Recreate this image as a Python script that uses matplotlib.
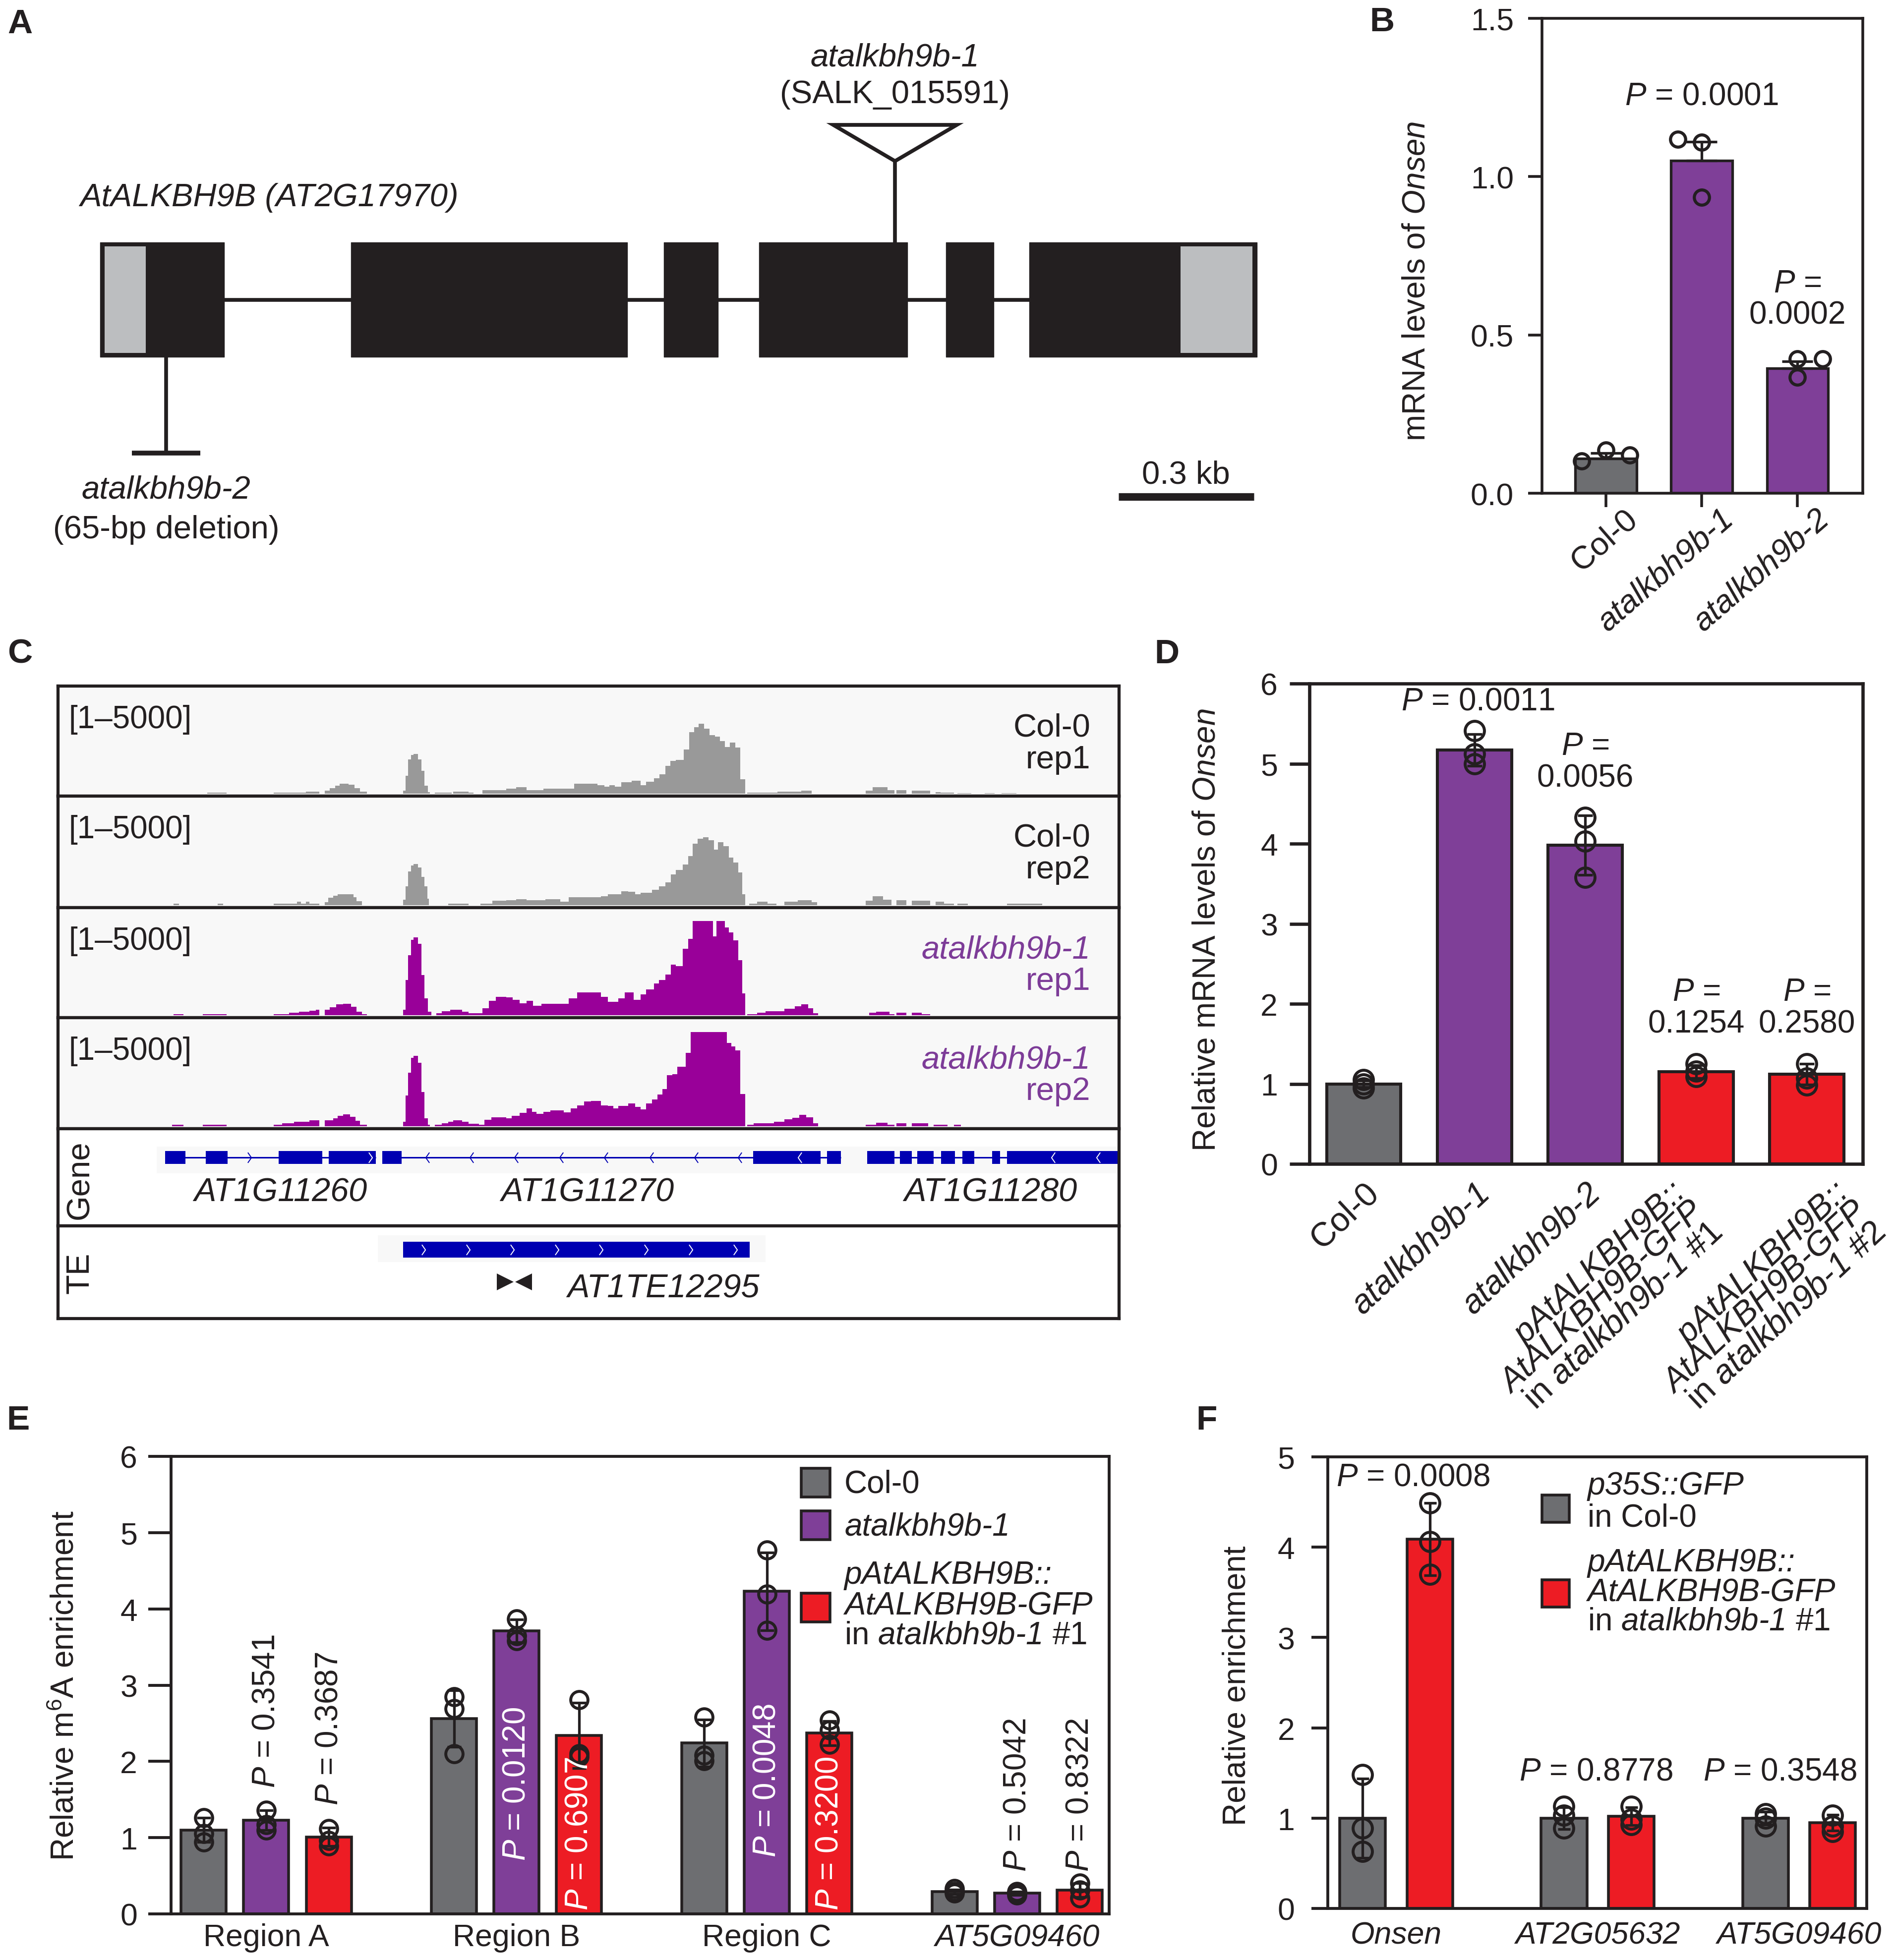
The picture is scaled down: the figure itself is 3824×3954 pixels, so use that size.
import numpy as np
import matplotlib
matplotlib.use('Agg')
import matplotlib.pyplot as plt
from matplotlib.patches import Rectangle, Polygon
from matplotlib.path import Path
from matplotlib.transforms import ScaledTranslation

plt.rcParams.update({
    'font.family': ['Liberation Sans', 'DejaVu Sans'],
    'mathtext.fontset': 'custom',
    'mathtext.rm': 'Liberation Sans',
    'mathtext.it': 'Liberation Sans:italic',
    'mathtext.bf': 'Liberation Sans:bold',
    'mathtext.sf': 'Liberation Sans',
    'axes.unicode_minus': False,
})

# ======================= DATA =======================
# Panel A: AtALKBH9B gene model (bp)
A_exon_starts = [0, 557, 1251, 1462, 1877, 2062]
A_exon_ends = [275, 1170, 1371, 1791, 1983, 2567]
A_utr_starts = [0, 2397]
A_utr_ends = [102, 2567]
A_tdna_pos = 1764
A_deletion_pos = 147
A_scale_bp = 300

# Panel B
B_labels = ['Col-0', 'atalkbh9b-1', 'atalkbh9b-2']
B_mean = [0.11, 1.05, 0.395]
B_err = [0.017, 0.06, 0.022]
B_points = [[0.101, 0.136, 0.120], [1.117, 1.108, 0.935], [0.424, 0.424, 0.366]]
B_jitter = [[-0.25, 0.0, 0.25], [-0.25, 0.0, 0.0], [0.0, 0.26, 0.0]]
B_pvals = ['', '0.0001', '0.0002']

# Panel C: coverage tracks (genome position units, reads; range [1-5000])
C_col0_rep1_edges = [220, 248, 318, 365, 385, 393, 400, 408, 415, 428, 437, 445, 455, 508, 512, 516, 520, 524, 530, 535,
                     540, 545, 548, 555, 580, 582, 605, 612, 625, 660, 675, 690, 715, 760, 795, 805, 812, 820, 830, 845,
                     858, 866, 878, 886, 895, 902, 910, 922, 930, 937, 944, 952, 960, 968, 975, 982, 990, 998, 1005, 1012,
                     1015, 1060, 1072, 1095, 1110, 1190, 1200, 1222, 1232, 1235, 1250, 1258, 1285, 1293, 1300, 1320, 1325, 1345, 1365, 1380,
                     1390, 1412]
C_col0_rep1_cov = [44, 0, 44, 105, 0, 158, 290, 420, 526, 465, 290, 96, 0, 158, 947, 1824, 2043, 2114, 1824, 1210,
                   420, 70, 0, 44, 0, 114, 44, 0, 175, 263, 333, 175, 272, 526, 447, 377, 447, 377, 596, 684,
                   447, 623, 816, 1035, 1473, 1736, 1780, 2350, 3271, 3534, 3710, 3447, 3096, 3034, 2789, 2482, 2701, 2438, 772, 0,
                   44, 96, 114, 167, 0, 158, 333, 175, 0, 175, 0, 158, 0, 88, 44, 0, 26, 0, 26, 0,
                   26]
C_col0_rep2_edges = [170, 178, 235, 243, 318, 352, 358, 365, 370, 385, 393, 398, 405, 412, 425, 435, 440, 448, 508, 512,
                     516, 520, 524, 530, 535, 540, 544, 546, 575, 605, 622, 640, 660, 675, 690, 718, 740, 752, 765, 800,
                     810, 830, 840, 850, 858, 875, 885, 895, 903, 910, 920, 928, 935, 942, 950, 958, 966, 972, 980, 988,
                     995, 1002, 1008, 1012, 1018, 1030, 1045, 1058, 1070, 1090, 1110, 1118, 1190, 1200, 1215, 1228, 1235, 1250, 1258, 1285,
                     1293, 1305, 1320, 1325, 1340, 1398, 1450]
C_col0_rep2_cov = [79, 0, 79, 0, 79, 175, 79, 175, 79, 0, 150, 390, 500, 588, 570, 420, 200, 0, 300, 1000,
                   1800, 2100, 2184, 2000, 1500, 1000, 350, 0, 79, 0, 79, 237, 254, 324, 254, 324, 184, 412, 412, 482,
                   588, 737, 720, 588, 649, 807, 1009, 1201, 1640, 1859, 2166, 2605, 3262, 3525, 3613, 3437, 2956, 3350, 3131, 2517,
                   2254, 1728, 588, 0, 79, 175, 79, 0, 193, 254, 150, 0, 237, 482, 281, 0, 254, 0, 237, 0,
                   184, 79, 0, 79, 0, 79]
C_mut_rep1_edges = [170, 185, 213, 248, 318, 340, 355, 370, 380, 385, 393, 400, 410, 420, 432, 440, 448, 455, 508, 512,
                    516, 520, 524, 530, 535, 540, 545, 550, 557, 565, 578, 595, 605, 625, 635, 645, 660, 670, 680, 690,
                    700, 712, 752, 765, 800, 810, 825, 835, 848, 858, 866, 878, 885, 895, 903, 910, 920, 928, 935, 965,
                    970, 982, 988, 995, 1002, 1008, 1012, 1015, 1030, 1042, 1070, 1085, 1095, 1105, 1112, 1120, 1195, 1205, 1225, 1232,
                    1235, 1250, 1258, 1272, 1285]
C_mut_rep1_cov = [44, 0, 44, 0, 44, 123, 175, 237, 298, 0, 298, 412, 588, 614, 456, 193, 44, 0, 281, 1859,
                  3175, 4008, 4139, 3789, 2122, 895, 193, 0, 105, 210, 281, 193, 105, 368, 763, 965, 940, 807, 631, 763,
                  500, 605, 895, 1201, 982, 719, 895, 1201, 807, 1114, 1377, 1684, 1859, 2166, 2692, 2605, 3526, 4052, 5000, 4184,
                  5000, 4667, 4403, 3964, 2912, 1158, 0, 44, 123, 210, 351, 473, 588, 368, 105, 0, 123, 193, 61, 0,
                  123, 0, 123, 61]
C_mut_rep2_edges = [168, 185, 213, 248, 318, 330, 348, 370, 385, 393, 405, 412, 420, 430, 438, 445, 455, 508, 512, 516,
                    520, 524, 530, 535, 540, 545, 548, 555, 565, 575, 582, 595, 605, 620, 628, 638, 660, 668, 680, 690,
                    698, 705, 715, 725, 745, 755, 765, 775, 785, 800, 810, 818, 825, 840, 850, 858, 866, 875, 883, 890,
                    897, 905, 912, 925, 932, 985, 992, 998, 1005, 1012, 1015, 1025, 1055, 1070, 1082, 1092, 1102, 1112, 1120, 1190,
                    1205, 1222, 1232, 1235, 1250, 1258, 1282, 1290, 1310, 1320, 1330]
C_mut_rep2_cov = [70, 0, 70, 0, 70, 157, 226, 313, 0, 313, 418, 548, 635, 505, 287, 70, 0, 244, 1636, 2854,
                  3637, 3741, 3376, 1810, 418, 70, 0, 87, 157, 226, 313, 226, 139, 87, 331, 479, 418, 548, 722, 940,
                  766, 661, 766, 835, 740, 940, 1114, 1305, 1331, 1114, 1070, 940, 1070, 1201, 1027, 896, 1201, 1418, 1679, 1984,
                  2723, 2767, 3158, 3898, 5000, 4420, 4246, 4028, 1723, 0, 70, 157, 244, 374, 435, 609, 461, 157, 0, 87,
                  174, 87, 0, 157, 0, 157, 0, 70, 0, 70]
C_track_names = ['Col-0', 'Col-0', 'atalkbh9b-1', 'atalkbh9b-1']
C_track_reps = ['rep1', 'rep2', 'rep1', 'rep2']
C_range_label = '[1\u20135000]'
C_data_max = 5000

# Panel C: annotation tracks
C_gene_names = ['AT1G11260', 'AT1G11270', 'AT1G11280']
C_gene_exons = [[(158, 188), (218, 250), (325, 389), (399, 468)],
                [(478, 506), (1024, 1123), (1133, 1153)],
                [(1192, 1232), (1240, 1258), (1266, 1290), (1301, 1321), (1332, 1350), (1376, 1388), (1398, 1563)]]
C_gene_label_pos = [328, 780, 1374]
C_intron_arrows_fwd = [282]
C_intron_arrows_rev = [544, 609, 675, 741, 807, 874, 940, 1004]
C_exon_arrows_fwd = [460]
C_exon_arrows_rev = [1093, 1466, 1532]
C_te_name = 'AT1TE12295'
C_te_span = (508, 1019)
C_te_arrows = [538, 604, 669, 735, 800, 866, 932, 998]
C_te_label_pos = 892
C_primer_pos = [659, 686]

# Panel D
D_labels = ['Col-0', 'atalkbh9b-1', 'atalkbh9b-2',
            'pAtALKBH9B::\nAtALKBH9B-GFP\n$\\mathrm{in}$ atalkbh9b-1 $\\mathrm{\\#1}$',
            'pAtALKBH9B::\nAtALKBH9B-GFP\n$\\mathrm{in}$ atalkbh9b-1 $\\mathrm{\\#2}$']
D_mean = [1.00, 5.17, 3.98, 1.15, 1.12]
D_err = [0.04, 0.20, 0.37, 0.08, 0.13]
D_points = [[0.95, 1.00, 1.05], [5.41, 5.12, 5.00], [4.33, 4.03, 3.58], [1.25, 1.16, 1.09], [1.25, 1.07, 0.985]]
D_pvals = ['', '0.0011', '0.0056', '0.1254', '0.2580']

# Panel E
E_groups = ['Region A', 'Region B', 'Region C', 'AT5G09460']
E_col0 = [1.10, 2.56, 2.24, 0.29]
E_col0_err = [0.16, 0.37, 0.31, 0.03]
E_col0_pts = [[1.26, 1.05, 0.94], [2.85, 2.69, 2.10], [2.58, 2.08, 2.01], [0.33, 0.29, 0.27]]
E_mut = [1.23, 3.71, 4.23, 0.27]
E_mut_err = [0.13, 0.15, 0.51, 0.02]
E_mut_pts = [[1.36, 1.17, 1.10], [3.87, 3.65, 3.58], [4.77, 4.19, 3.72], [0.29, 0.27, 0.25]]
E_comp = [1.01, 2.34, 2.37, 0.31]
E_comp_err = [0.12, 0.43, 0.16, 0.09]
E_comp_pts = [[1.12, 0.96, 0.89], [2.81, 2.10, 2.06], [2.54, 2.41, 2.22], [0.40, 0.31, 0.21]]
E_p_mut = ['0.3541', '0.0120', '0.0048', '0.5042']
E_p_comp = ['0.3687', '0.6907', '0.3200', '0.8322']
E_legend = ['Col-0', 'atalkbh9b-1', ['pAtALKBH9B::', 'AtALKBH9B-GFP', '$\\mathrm{in}$ atalkbh9b-1 $\\mathrm{\\#1}$']]

# Panel F
F_groups = ['Onsen', 'AT2G05632', 'AT5G09460']
F_gfp = [1.00, 1.00, 1.00]
F_gfp_err = [0.44, 0.12, 0.07]
F_gfp_pts = [[1.48, 0.89, 0.63], [1.13, 1.03, 0.89], [1.05, 1.00, 0.91]]
F_comp = [4.09, 1.02, 0.95]
F_comp_err = [0.40, 0.10, 0.09]
F_comp_pts = [[4.49, 4.06, 3.70], [1.13, 0.99, 0.93], [1.03, 0.91, 0.85]]
F_pvals = ['0.0008', '0.8778', '0.3548']
F_legend = [['p35S::GFP', 'in Col-0'], ['pAtALKBH9B::', 'AtALKBH9B-GFP', '$\\mathrm{in}$ atalkbh9b-1 $\\mathrm{\\#1}$']]

# ======================= STYLE =======================
BLK = '#231f20'
GREY = '#6d6e71'
PURPLE = '#7f3f98'
RED = '#ed1c24'
UTR_GREY = '#bcbec0'
COV_GREY = '#999999'
COV_PURPLE = '#990099'
LAB_PURPLE = '#7d3c98'
IGV_BLUE = '#0000b2'
TRACK_BG = '#f8f8f8'
FS = 46
FS_T = 45
FS_A = 47

W, H = 3824, 3955
fig = plt.figure(figsize=(W / 100, H / 100), dpi=100)


def ax_px(l, t, r, b):
    return fig.add_axes([l / W, 1 - b / H, (r - l) / W, (b - t) / H])


def pv(v):
    return r'$\mathit{P}$ = ' + v


def style_box(ax, lw, ylen, ypad):
    for s in ax.spines.values():
        s.set_linewidth(lw)
        s.set_color(BLK)
    ax.tick_params(axis='y', direction='out', length=ylen, width=lw, pad=ypad,
                   labelsize=FS_T, colors=BLK)


def draw_bars(ax, x, mean, err, pts, color, width, ms, cap, lw_edge, jitter=None, upper_only=False, mew=4.3):
    x = np.asarray(x, dtype=float)
    ax.bar(x, mean, width=width, color=color, edgecolor=BLK, linewidth=lw_edge, zorder=2)
    yerr = [np.zeros(len(err)), err] if upper_only else err
    ax.errorbar(x, mean, yerr=yerr, fmt='none', ecolor=BLK, elinewidth=3.8,
                capsize=cap, capthick=3.8, zorder=3)
    for i, p in enumerate(pts):
        off = np.zeros(len(p)) if jitter is None else np.asarray(jitter[i])
        ax.plot(x[i] + off, p, 'o', ms=ms, mfc='none', mec=BLK, mew=mew, zorder=4, clip_on=False)


def panel_letter(x, y, s):
    fig.text(x / W, 1 - y / H, s, fontsize=50, fontweight='bold', ha='left', va='baseline', color=BLK)


# ======================= PANEL A =======================
axA = ax_px(101, 50, 2623, 1110)
axA.set_xlim(-110.6, 2663.7)
axA.set_ylim(-4.35, 4.79)
axA.axis('off')
axA.hlines(0, A_exon_starts[0], A_exon_ends[-1], color=BLK, lw=5.5, zorder=1)
axA.broken_barh([(s, e - s) for s, e in zip(A_exon_starts, A_exon_ends)], (-1, 2),
                facecolors=BLK, edgecolors=BLK, lw=1, zorder=2)
inx, iny = 10, 0.075
axA.broken_barh([(A_utr_starts[0] + inx, A_utr_ends[0] - A_utr_starts[0] - inx),
                 (A_utr_starts[1], A_utr_ends[1] - A_utr_starts[1] - inx)],
                (-1 + iny, 2 - 2 * iny), facecolors=UTR_GREY, edgecolors='none', zorder=3)
axA.vlines(A_tdna_pos, 1, 2.41, color=BLK, lw=5.5)
axA.add_patch(Polygon([(A_tdna_pos - 137, 3.04), (A_tdna_pos + 137, 3.04), (A_tdna_pos, 2.41)],
                      closed=True, fc='white', ec=BLK, lw=5.5, joinstyle='miter'))
axA.vlines(A_deletion_pos, -2.67, -1, color=BLK, lw=5.5)
axA.hlines(-2.67, A_deletion_pos - 76, A_deletion_pos + 76, color=BLK, lw=7)
axA.hlines(-3.43, 2260, 2260 + A_scale_bp, color=BLK, lw=11)
axA.text(A_tdna_pos, 4.22, 'atalkbh9b-1', style='italic', fontsize=FS_A, ha='center', va='center', color=BLK)
axA.text(A_tdna_pos, 3.57, '(SALK_015591)', fontsize=FS_A, ha='center', va='center', color=BLK)
axA.text(-44, 1.78, 'AtALKBH9B (AT2G17970)', style='italic', fontsize=FS_A, ha='left', va='center', color=BLK)
axA.text(A_deletion_pos, -3.30, 'atalkbh9b-2', style='italic', fontsize=FS_A, ha='center', va='center', color=BLK)
axA.text(A_deletion_pos, -4.00, '(65-bp deletion)', fontsize=FS_A, ha='center', va='center', color=BLK)
axA.text(2260 + A_scale_bp / 2, -3.04, '0.3 kb', fontsize=FS_A, ha='center', va='center', color=BLK)

# ======================= PANEL B =======================
axB = ax_px(3110, 37.6, 3757, 996)
xB = np.arange(len(B_labels))
draw_bars(axB, xB, B_mean, B_err, B_points, [GREY, PURPLE, PURPLE], 0.64, 22, 22, 3.8,
          jitter=B_jitter, upper_only=True, mew=4.5)
axB.set_xlim(-0.665, 2.68)
axB.set_ylim(0, 1.5)
axB.set_yticks([0, 0.5, 1.0, 1.5])
axB.set_yticklabels(['0.0', '0.5', '1.0', '1.5'])
style_box(axB, 4.0, 20, 21)
axB.tick_params(axis='x', direction='out', length=20, width=4.0, pad=15, labelsize=47, colors=BLK)
axB.set_xticks(xB)
axB.set_xticklabels(B_labels, rotation=41, ha='right', va='top', rotation_mode='anchor')
offB = ScaledTranslation(0.36, 0.28, fig.dpi_scale_trans)
for i, lab in enumerate(axB.get_xticklabels()):
    lab.set_transform(lab.get_transform() + offB)
    if i > 0:
        lab.set_fontstyle('italic')
axB.set_ylabel(r'mRNA levels of $\mathit{Onsen}$', fontsize=FS, va='center', color=BLK)
axB.yaxis.set_label_coords(-0.392, 0.447)
axB.text(1, 1.255, pv(B_pvals[1]), fontsize=FS, ha='center', va='center', color=BLK)
axB.text(2, 0.662, r'$\mathit{P}$ =', fontsize=FS, ha='center', va='center', color=BLK)
axB.text(2, 0.563, B_pvals[2], fontsize=FS, ha='center', va='center', color=BLK)

# ======================= PANEL C =======================
track_bounds = [1385, 1607, 1832, 2054, 2278, 2474, 2661]
tracks = [(C_col0_rep1_edges, C_col0_rep1_cov, COV_GREY, BLK),
          (C_col0_rep2_edges, C_col0_rep2_cov, COV_GREY, BLK),
          (C_mut_rep1_edges, C_mut_rep1_cov, COV_PURPLE, LAB_PURPLE),
          (C_mut_rep2_edges, C_mut_rep2_cov, COV_PURPLE, LAB_PURPLE)]
XMAX = 1563
k = C_data_max / 190.0
for i, (edges, cov, col, lcol) in enumerate(tracks):
    t, b = track_bounds[i], track_bounds[i + 1]
    ax = ax_px(117, t, 2257, b)
    hpx = b - t
    ax.set_facecolor(TRACK_BG)
    ax.stairs(np.minimum(cov, C_data_max), edges, fill=True, color=col, lw=0)
    ax.set_xlim(0, XMAX)
    ax.set_ylim(-5 * k, (hpx - 5) * k)
    ax.set_xticks([]); ax.set_yticks([])
    for s in ax.spines.values():
        s.set_linewidth(4.5); s.set_color(BLK)
    ax.text(0.010, 1 - 84 / hpx, C_range_label, transform=ax.transAxes, fontsize=46,
            ha='left', va='baseline', color=BLK)
    name_style = 'italic' if i >= 2 else 'normal'
    ax.text(0.973, 1 - 101 / hpx, C_track_names[i], transform=ax.transAxes, fontsize=FS_A,
            ha='right', va='baseline', color=lcol, style=name_style)
    ax.text(0.973, 1 - 165 / hpx, C_track_reps[i], transform=ax.transAxes, fontsize=FS_A,
            ha='right', va='baseline', color=lcol)

chev_f = Path([(-0.35, 1), (0.35, 0), (-0.35, -1)], [Path.MOVETO, Path.LINETO, Path.LINETO])
chev_r = Path([(0.35, 1), (-0.35, 0), (0.35, -1)], [Path.MOVETO, Path.LINETO, Path.LINETO])

# Gene track
axG = ax_px(117, track_bounds[4], 2257, track_bounds[5])
axG.set_xlim(0, XMAX); axG.set_ylim(0, 1)
axG.set_xticks([]); axG.set_yticks([])
for s in axG.spines.values():
    s.set_linewidth(4.5); s.set_color(BLK)
axG.add_patch(Rectangle((145, 0.541), XMAX - 145, 0.275, fc=TRACK_BG, ec='none'))
yc, hh = 0.704, 0.066
for exons in C_gene_exons:
    axG.hlines(yc, exons[0][0], exons[-1][1], color=IGV_BLUE, lw=2.2)
    axG.broken_barh([(s, e - s) for s, e in exons], (yc - hh, 2 * hh), facecolors=IGV_BLUE, edgecolors='none')
axG.plot(C_intron_arrows_fwd, [yc] * len(C_intron_arrows_fwd), ls='none', marker=chev_f, ms=15,
         mfc='none', mec=IGV_BLUE, mew=1.4)
axG.plot(C_intron_arrows_rev, [yc] * len(C_intron_arrows_rev), ls='none', marker=chev_r, ms=15,
         mfc='none', mec=IGV_BLUE, mew=1.4)
axG.plot(C_exon_arrows_fwd, [yc] * len(C_exon_arrows_fwd), ls='none', marker=chev_f, ms=15,
         mfc='none', mec='white', mew=1.4)
axG.plot(C_exon_arrows_rev, [yc] * len(C_exon_arrows_rev), ls='none', marker=chev_r, ms=15,
         mfc='none', mec='white', mew=1.4)
for name, xp in zip(C_gene_names, C_gene_label_pos):
    axG.text(xp, 0.342, name, style='italic', fontsize=48, ha='center', va='center', color=BLK)
axG.text(0.0206, 0.48, 'Gene', transform=axG.transAxes, rotation=90, fontsize=FS_A,
         ha='center', va='center', color=BLK)

# TE track
axT = ax_px(117, track_bounds[5], 2257, track_bounds[6])
axT.set_xlim(0, XMAX); axT.set_ylim(0, 1)
axT.set_xticks([]); axT.set_yticks([])
for s in axT.spines.values():
    s.set_linewidth(4.5); s.set_color(BLK)
axT.add_patch(Rectangle((471, 0.611), 571, 0.286, fc=TRACK_BG, ec='none'))
axT.broken_barh([(C_te_span[0], C_te_span[1] - C_te_span[0])], (0.659, 0.171),
                facecolors=IGV_BLUE, edgecolors='none')
axT.plot(C_te_arrows, [0.7445] * len(C_te_arrows), ls='none', marker=chev_f, ms=15,
         mfc='none', mec='white', mew=1.4)
axT.plot([C_primer_pos[0]], [0.398], ls='none', marker='>', ms=25, color=BLK, mew=0)
axT.plot([C_primer_pos[1]], [0.398], ls='none', marker='<', ms=25, color=BLK, mew=0)
axT.text(C_te_label_pos, 0.322, C_te_name, style='italic', fontsize=48, ha='center', va='center', color=BLK)
axT.text(0.0206, 0.497, 'TE', transform=axT.transAxes, rotation=90, fontsize=FS_A,
         ha='center', va='center', color=BLK)

# ======================= PANEL D =======================
axD = ax_px(2641, 1380, 3757, 2349)
xD = np.arange(len(D_labels))
draw_bars(axD, xD, D_mean, D_err, D_points, [GREY, PURPLE, PURPLE, RED, RED], 0.67, 28, 11, 4.4)
axD.set_xlim(-0.49, 4.505)
axD.set_ylim(0, 6)
axD.set_yticks(range(0, 7))
style_box(axD, 4.8, 29, 17)
axD.tick_params(axis='x', length=0, pad=18, labelsize=49, colors=BLK)
axD.set_xticks(xD)
axD.set_xticklabels(D_labels, rotation=43, ha='right', va='top', rotation_mode='anchor',
                    multialignment='right', linespacing=0.81)
D_label_dx = [0.0, 0.0, 0.0, -0.52, 0.53]   # label nudges (inches)
for i, lab in enumerate(axD.get_xticklabels()):
    lab.set_transform(lab.get_transform() + ScaledTranslation(D_label_dx[i], 0, fig.dpi_scale_trans))
    if i > 0:
        lab.set_fontstyle('italic')
axD.set_ylabel(r'Relative mRNA levels of $\mathit{Onsen}$', fontsize=FS, va='center', color=BLK)
axD.yaxis.set_label_coords(-0.186, 0.4875)
axD.text(1.03, 5.78, pv(D_pvals[1]), fontsize=FS, ha='center', va='center', color=BLK)
for xi, ytop in [(2, 5.22), (3, 2.15), (4, 2.15)]:
    axD.text(xi, ytop, r'$\mathit{P}$ =', fontsize=FS, ha='center', va='center', color=BLK)
    axD.text(xi, ytop - 0.40, D_pvals[xi], fontsize=FS, ha='center', va='center', color=BLK)

# ======================= PANEL E =======================
axE = ax_px(345, 2939, 2237, 3862)
g = np.arange(len(E_groups))
xE0, xE1, xE2 = 4 * g, 4 * g + 1, 4 * g + 2
draw_bars(axE, xE0, E_col0, E_col0_err, E_col0_pts, GREY, 0.72, 25, 10, 4.0)
draw_bars(axE, xE1, E_mut, E_mut_err, E_mut_pts, PURPLE, 0.72, 25, 10, 4.0)
draw_bars(axE, xE2, E_comp, E_comp_err, E_comp_pts, RED, 0.72, 25, 10, 4.0)
axE.set_xlim(-0.52, 14.47)
axE.set_ylim(0, 6)
axE.set_yticks(range(0, 7))
style_box(axE, 4.2, 33, 16)
axE.tick_params(axis='x', length=0, pad=13, labelsize=FS_T, colors=BLK)
axE.set_xticks(xE1)
axE.set_xticklabels(E_groups)
axE.get_xticklabels()[3].set_fontstyle('italic')
axE.set_ylabel(r'Relative m$^{6}$A enrichment', fontsize=FS, va='center', color=BLK)
axE.yaxis.set_label_coords(-0.113, 0.50)
E_p_mut_y = [1.66, 0.70, 0.75, 0.56]
E_p_comp_y = [1.43, 0.05, 0.05, 0.56]
E_p_col = ['k', 'w', 'w', 'k']
for i in range(len(E_groups)):
    axE.text(xE1[i], E_p_mut_y[i], pv(E_p_mut[i]), rotation=90, rotation_mode='anchor',
             ha='left', va='center', fontsize=FS, color=BLK if E_p_col[i] == 'k' else 'white', zorder=5)
    axE.text(xE2[i], E_p_comp_y[i], pv(E_p_comp[i]), rotation=90, rotation_mode='anchor',
             ha='left', va='center', fontsize=FS, color=BLK if E_p_col[i] == 'k' else 'white', zorder=5)
# legend
for yc_, col in zip([0.9426, 0.849, 0.6696], [GREY, PURPLE, RED]):
    axE.add_patch(Rectangle((0.6718, yc_ - 0.0314), 0.0307, 0.0628, transform=axE.transAxes,
                            fc=col, ec=BLK, lw=4.0, clip_on=False))
axE.text(0.7178, 0.940, E_legend[0], transform=axE.transAxes, fontsize=FS, ha='left', va='center', color=BLK)
axE.text(0.7178, 0.8466, E_legend[1], transform=axE.transAxes, fontsize=FS, ha='left', va='center',
         color=BLK, style='italic')
for line, yy in zip(E_legend[2], [0.741, 0.673, 0.609]):
    axE.text(0.7178, yy, line, transform=axE.transAxes, fontsize=FS, ha='left', va='center',
             color=BLK, style='italic')

# ======================= PANEL F =======================
axF = ax_px(2678, 2940, 3765, 3851)
gF = np.arange(len(F_groups))
xF0, xF1 = 3 * gF, 3 * gF + 1
draw_bars(axF, xF0, F_gfp, F_gfp_err, F_gfp_pts, GREY, 0.68, 28, 9, 4.0)
draw_bars(axF, xF1, F_comp, F_comp_err, F_comp_pts, RED, 0.68, 28, 9, 4.0)
axF.set_xlim(-0.52, 7.51)
axF.set_ylim(0, 5)
axF.set_yticks(range(0, 6))
style_box(axF, 4.2, 24, 24)
axF.tick_params(axis='x', length=0, pad=18, labelsize=FS_T, colors=BLK)
axF.set_xticks(xF0 + 0.5)
axF.set_xticklabels(F_groups, style='italic')
axF.set_ylabel('Relative enrichment', fontsize=FS, va='center', color=BLK)
axF.yaxis.set_label_coords(-0.169, 0.494)
for (xx, yy), p in zip([(0.75, 4.78), (3.48, 1.52), (6.22, 1.52)], F_pvals):
    axF.text(xx, yy, pv(p), fontsize=FS, ha='center', va='center', color=BLK)
for yc_, col in zip([0.885, 0.698], [GREY, RED]):
    axF.add_patch(Rectangle((0.397, yc_ - 0.0302), 0.0506, 0.0604, transform=axF.transAxes,
                            fc=col, ec=BLK, lw=4.0, clip_on=False))
axF.text(0.4817, 0.9366, F_legend[0][0], transform=axF.transAxes, fontsize=FS, ha='left', va='center',
         color=BLK, style='italic')
axF.text(0.4817, 0.8654, F_legend[0][1], transform=axF.transAxes, fontsize=FS, ha='left', va='center', color=BLK)
for line, yy in zip(F_legend[1], [0.7666, 0.6995, 0.6363]):
    axF.text(0.4817, yy, line, transform=axF.transAxes, fontsize=FS, ha='left', va='center',
             color=BLK, style='italic')

# ======================= panel letters =======================
panel_letter(15, 67, 'A')
panel_letter(2762, 63, 'B')
panel_letter(15, 1338, 'C')
panel_letter(2328, 1338, 'D')
panel_letter(13, 2884, 'E')
panel_letter(2412, 2884, 'F')

fig.savefig('out.png', dpi=100)
